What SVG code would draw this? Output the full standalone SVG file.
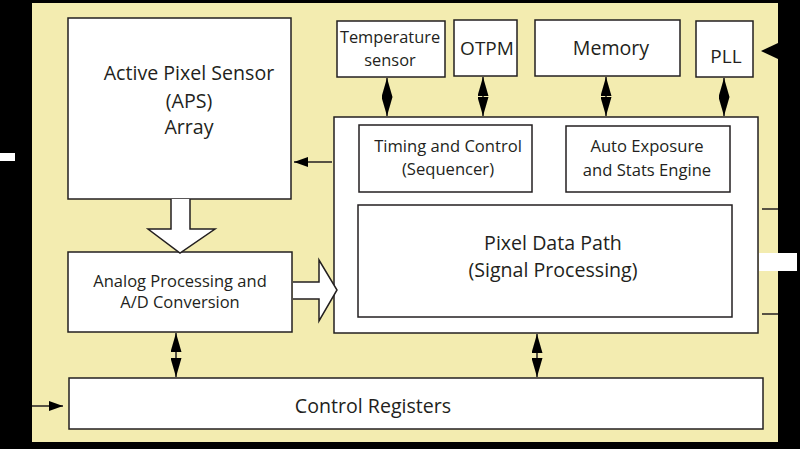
<svg xmlns="http://www.w3.org/2000/svg" width="800" height="449" viewBox="0 0 800 449">
<defs>
<style>
.box{fill:#fff;stroke:#231f20;stroke-width:1.5}
.t{font-family:"Open Sans","Liberation Sans",sans-serif;fill:#231f20;text-anchor:middle}
.c{stroke:#231f20;stroke-width:1.5;fill:none}
.fat{fill:#fff;stroke:#231f20;stroke-width:1.5;stroke-linejoin:miter}
</style>
<marker id="ah" viewBox="0 0 19 11" refX="19" refY="5.5" markerWidth="19" markerHeight="11" markerUnits="userSpaceOnUse" orient="auto-start-reverse">
<path d="M0,0 L19,5.5 L0,11 Z" fill="#000"/>
</marker>
<marker id="sh" viewBox="0 0 14 10" refX="14" refY="5" markerWidth="14" markerHeight="10" markerUnits="userSpaceOnUse" orient="auto">
<path d="M0,0 L14,5 L0,10 Z" fill="#000"/>
</marker>
</defs>
<rect x="0" y="0" width="800" height="449" fill="#000"/>
<rect x="32" y="3" width="746" height="439" fill="#f3ecb0"/>
<rect x="0" y="153" width="15" height="8" fill="#fff"/>
<rect x="759" y="253" width="38" height="18" fill="#fff"/>

<g id="aps"><rect class="box" x="68" y="18" width="223" height="181"/>
<text class="t" font-size="19.6" x="189" y="80">Active Pixel Sensor</text>
<text class="t" font-size="19.6" x="189" y="108">(APS)</text>
<text class="t" font-size="19.6" x="189" y="134">Array</text></g>

<g id="analog"><rect class="box" x="68" y="252" width="224" height="80"/>
<text class="t" font-size="16.5" x="180" y="287">Analog Processing and</text>
<text class="t" font-size="16.5" x="180" y="308">A/D Conversion</text></g>

<g id="core"><rect class="box" x="334" y="117" width="424" height="216"/></g>

<g id="timing"><rect class="box" x="359" y="125" width="173" height="67"/>
<text class="t" font-size="16.6" x="448" y="152">Timing and Control</text>
<text class="t" font-size="16.6" x="448" y="175">(Sequencer)</text></g>

<g id="autoexp"><rect class="box" x="566" y="126" width="164" height="66"/>
<text class="t" font-size="16.6" x="647" y="152">Auto Exposure</text>
<text class="t" font-size="16.6" x="647" y="176">and Stats Engine</text></g>

<g id="pixeldata"><rect class="box" x="358" y="205" width="374" height="112"/>
<text class="t" font-size="19.6" x="553" y="250">Pixel Data Path</text>
<text class="t" font-size="19.6" x="553" y="277">(Signal Processing)</text></g>

<g id="temp"><rect class="box" x="337" y="21" width="108" height="56"/>
<text class="t" font-size="16.4" x="390" y="43">Temperature</text>
<text class="t" font-size="16.4" x="390" y="66">sensor</text></g>

<g id="otpm"><rect class="box" x="454" y="20" width="63" height="56"/>
<text class="t" font-size="19" x="487" y="55">OTPM</text></g>

<g id="memory"><rect class="box" x="535" y="20" width="145" height="56"/>
<text class="t" font-size="19.6" x="611" y="55">Memory</text></g>

<g id="pll"><rect class="box" x="696" y="21" width="57" height="56"/>
<text class="t" font-size="19" x="726" y="63">PLL</text></g>

<g id="ctrlreg"><rect class="box" x="69" y="378" width="694" height="51"/>
<text class="t" font-size="19.6" x="373" y="413">Control Registers</text></g>

<g id="connectors">
<line class="c" x1="387" y1="78" x2="387" y2="116" marker-start="url(#ah)" marker-end="url(#ah)"/>
<line class="c" x1="483" y1="77" x2="483" y2="116" marker-start="url(#ah)" marker-end="url(#ah)"/>
<line class="c" x1="606" y1="77" x2="606" y2="116" marker-start="url(#ah)" marker-end="url(#ah)"/>
<line class="c" x1="724" y1="78" x2="724" y2="116" marker-start="url(#ah)" marker-end="url(#ah)"/>
<line class="c" x1="176" y1="333" x2="176" y2="377" marker-start="url(#ah)" marker-end="url(#ah)"/>
<line class="c" x1="537" y1="334" x2="537" y2="377" marker-start="url(#ah)" marker-end="url(#ah)"/>
<line class="c" x1="332" y1="162" x2="294" y2="162" marker-end="url(#sh)"/>
<line class="c" x1="32" y1="406" x2="63" y2="406" marker-end="url(#sh)"/>
<path d="M778,43 L761,51 L778,59 Z" fill="#000"/>
<line class="c" x1="762" y1="209" x2="778" y2="209"/>
<line class="c" x1="762" y1="314" x2="778" y2="314"/>
<path class="fat" d="M171,199 L171,229 L148,229 L180,253 L215,229 L190,229 L190,199"/>
<path class="fat" d="M293,282 L319,282 L319,260 L337,290 L319,321 L319,299 L293,299"/>
</g>
</svg>
